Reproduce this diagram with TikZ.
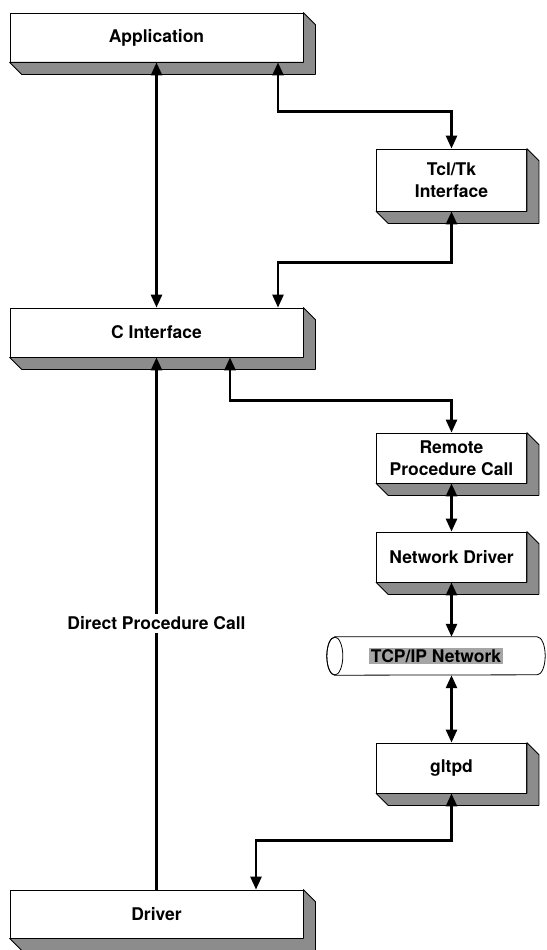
\documentclass[tikz,border=0pt]{standalone}
\usepackage{fontspec}
\setmainfont{TeX Gyre Heros}
\usepackage{tikz}
\usetikzlibrary{arrows.meta,calc}
\definecolor{slabshade}{RGB}{140,140,140}
\definecolor{labelshade}{RGB}{165,165,165}

\begin{document}
\begin{tikzpicture}[
  x=1pt, y=-1pt,
  font=\fontsize{17.5}{22}\selectfont\bfseries,
  slab/.style={draw, line width=0.8pt, fill=white, align=center, inner sep=0pt},
  widebox/.style={slab, minimum width=293pt, minimum height=49pt},
  sidebox/.style={slab, minimum width=150pt, minimum height=50pt},
  pipebody/.style={inner sep=0pt, minimum width=218pt, minimum height=38pt},
  pipeline/.style={draw, line width=0.8pt, fill=white},
  netlbl/.style={fill=labelshade, inner sep=1.5pt},
  arr/.style={-{Triangle[length=13pt,width=11pt]}, line width=2.6pt},
  biarr/.style={{Triangle[length=13pt,width=11pt]}-{Triangle[length=13pt,width=11pt]}, line width=2.6pt}
]
\useasboundingbox (0,0) rectangle (546,950);
\node[widebox] (app) at (156.5,37.5) {Application};
\node[sidebox, minimum height=62pt] (tcl) at (451.5,180) {Tcl/Tk\\Interface};
\node[widebox] (cif) at (156.5,332.5) {C Interface};
\node[sidebox] (rpc) at (451.5,458) {Remote\\Procedure Call};
\node[sidebox] (nd) at (451.5,557) {Network Driver};
\node[pipebody] (tcp) at (436,656) {};
\node[sidebox] (gltpd) at (451.5,768) {gltpd};
\node[widebox, minimum height=48pt] (drv) at (156.5,914) {Driver};
% network pipe
\path[pipeline] ([xshift=8pt]tcp.north west) -- ([xshift=-8pt]tcp.north east)
  arc[start angle=90, end angle=-90, x radius=8pt, y radius=19pt]
  -- ([xshift=8pt]tcp.south west)
  arc[start angle=270, end angle=90, x radius=8pt, y radius=19pt] -- cycle;
\draw[line width=0.8pt] ([xshift=8pt]tcp.west) ellipse [x radius=8pt, y radius=19pt];
\node[netlbl] (tcplbl) at (tcp.center) {TCP/IP Network};
% extruded sides
\foreach \n in {app,tcl,cif,rpc,nd,gltpd,drv}
  \filldraw[fill=slabshade, line width=0.8pt, line join=round]
    (\n.north east) -- ++(12,12) -- ([shift={(12,12)}]\n.south east)
    -- ([shift={(12,12)}]\n.south west) -- (\n.south west) -- (\n.south east) -- cycle;
\draw[biarr] (app) -- (cif);
\draw[biarr] ([xshift=121.5pt]app.south) -- ++(0,49) -| (tcl.north);
\draw[biarr] (tcl.south) -- ++(0,51) -| ([xshift=121.5pt]cif.north);
\draw[biarr] ([xshift=73.5pt]cif.south) -- ++(0,43) -| (rpc.north);
\draw[biarr] (rpc) -- (nd);
\draw[biarr] (nd.south) -- (nd.south |- tcp.north);
\draw[biarr] (gltpd.north |- tcp.south) -- (gltpd.north);
\draw[biarr] (gltpd.south) -- ++(0,47) -| ([xshift=99.5pt]drv.north);
\draw[arr] (drv) -- node[fill=white, inner sep=3pt] {Direct Procedure Call} (cif);
\end{tikzpicture}
\end{document}
